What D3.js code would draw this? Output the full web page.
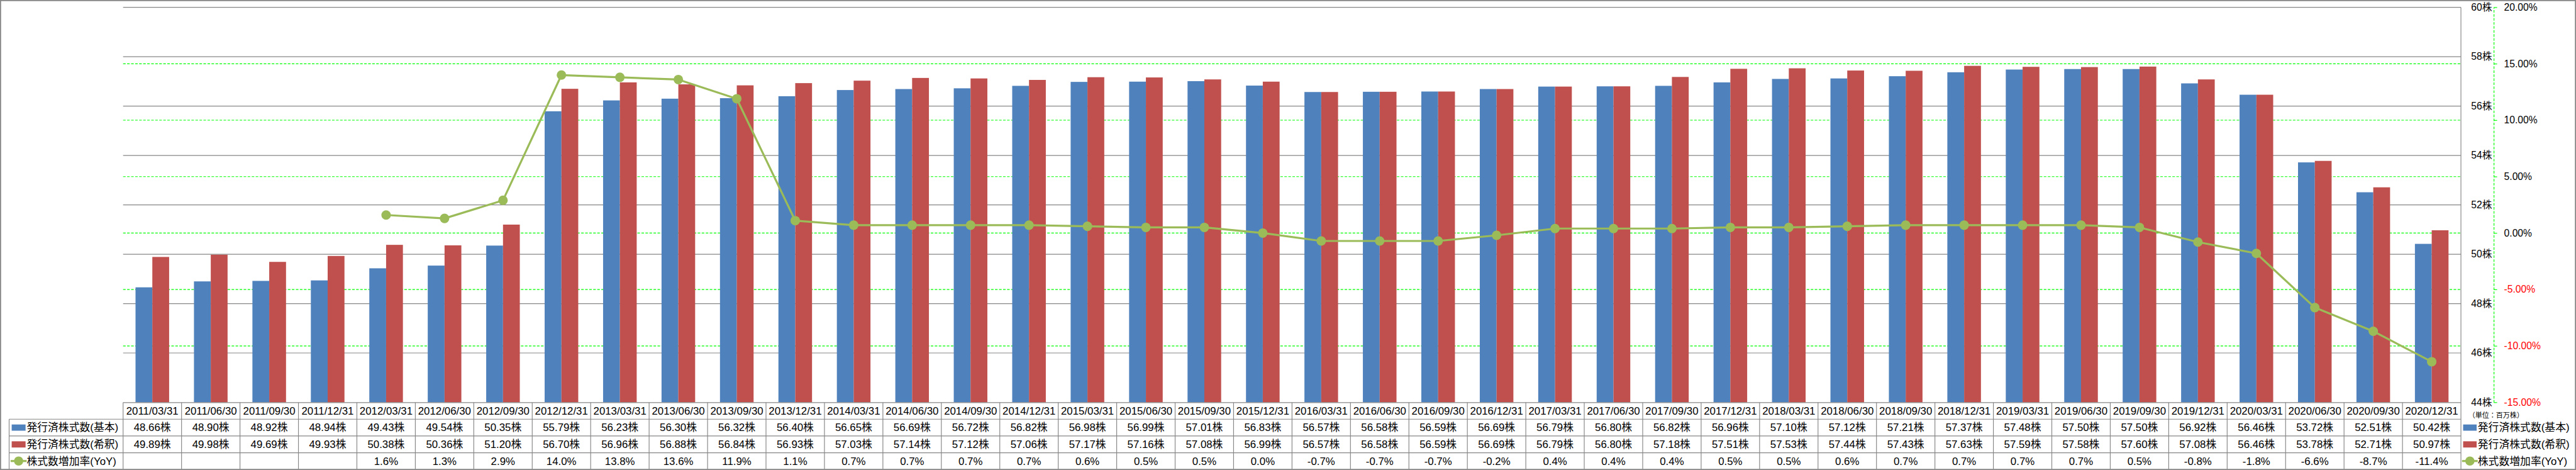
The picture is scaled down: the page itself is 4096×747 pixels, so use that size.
<!DOCTYPE html>
<html><head><meta charset="utf-8">
<script src="https://cdn.jsdelivr.net/npm/d3@7"></script>
<style>
html,body{margin:0;padding:0;background:#fff;overflow:hidden;}
svg{display:block;}
</style></head><body>
<svg id="chart"></svg>
<script>
const categories = ["2011/03/31","2011/06/30","2011/09/30","2011/12/31","2012/03/31","2012/06/30","2012/09/30","2012/12/31","2013/03/31","2013/06/30","2013/09/30","2013/12/31","2014/03/31","2014/06/30","2014/09/30","2014/12/31","2015/03/31","2015/06/30","2015/09/30","2015/12/31","2016/03/31","2016/06/30","2016/09/30","2016/12/31","2017/03/31","2017/06/30","2017/09/30","2017/12/31","2018/03/31","2018/06/30","2018/09/30","2018/12/31","2019/03/31","2019/06/30","2019/09/30","2019/12/31","2020/03/31","2020/06/30","2020/09/30","2020/12/31"];
const basicShares = [48.66,48.90,48.92,48.94,49.43,49.54,50.35,55.79,56.23,56.30,56.32,56.40,56.65,56.69,56.72,56.82,56.98,56.99,57.01,56.83,56.57,56.58,56.59,56.69,56.79,56.80,56.82,56.96,57.10,57.12,57.21,57.37,57.48,57.50,57.50,56.92,56.46,53.72,52.51,50.42];
const dilutedShares = [49.89,49.98,49.69,49.93,50.38,50.36,51.20,56.70,56.96,56.88,56.84,56.93,57.03,57.14,57.12,57.06,57.17,57.16,57.08,56.99,56.57,56.58,56.59,56.69,56.79,56.80,57.18,57.51,57.53,57.44,57.43,57.63,57.59,57.58,57.60,57.08,56.46,53.78,52.71,50.97];
const yoyGrowth = [null,null,null,null,1.6,1.3,2.9,14.0,13.8,13.6,11.9,1.1,0.7,0.7,0.7,0.7,0.6,0.5,0.5,0.0,-0.7,-0.7,-0.7,-0.2,0.4,0.4,0.4,0.5,0.5,0.6,0.7,0.7,0.7,0.7,0.5,-0.8,-1.8,-6.6,-8.7,-11.4];
const shareTicks = [44,46,48,50,52,54,56,58,60];
const pctTicks = [-15,-10,-5,0,5,10,15,20];
const seriesNames = ["発行済株式数(基本)","発行済株式数(希釈)","株式数増加率(YoY)"];
const seriesColors = ["#4F81BD","#C0504D","#9BBB59"];
const unitLabel = "（単位：百万株）";

const W = 7052, H = 1286;
const FONT = "'Liberation Sans','Noto Sans CJK JP',Arial,sans-serif";
const svg = d3.select("#chart").attr("width",4096).attr("height",747).attr("viewBox",`0 0 ${W} ${H}`);

svg.append("rect").attr("x",0).attr("y",0).attr("width",W).attr("height",H).attr("fill","#fff");

const plot = {left:337, right:6737, top:20, bottom:1101};
const x = d3.scaleBand().domain(categories).range([plot.left, plot.right]);
const xi = d3.scaleBand().domain(["b","d"]).range([34,126]);
const yS = d3.scaleLinear().domain([44,60]).range([plot.bottom, plot.top]);
const yP = d3.scaleLinear().domain([-15,20]).range([plot.bottom, plot.top]);
const cx = c => x(c) + x.bandwidth()/2;

// green dashed gridlines (percent axis)
svg.append("g").selectAll("line").data(pctTicks.filter(d => d > -15 && d < 20)).join("line")
  .attr("x1",plot.left).attr("x2",plot.right)
  .attr("y1",d=>yP(d)).attr("y2",d=>yP(d))
  .attr("stroke","#00FF00").attr("stroke-width",2).attr("stroke-dasharray","7,4");
// gray gridlines
svg.append("g").selectAll("line").data(shareTicks.filter(d => d > 44)).join("line")
  .attr("x1",plot.left).attr("x2",plot.right)
  .attr("y1",d=>yS(d)).attr("y2",d=>yS(d))
  .attr("stroke","#868686").attr("stroke-width",2);

// bars
const bars = svg.append("g");
bars.selectAll("rect.b").data(categories).join("rect").attr("class","b")
  .attr("x",c=>x(c)+xi("b")).attr("width",xi.bandwidth())
  .attr("y",(c,i)=>yS(basicShares[i])).attr("height",(c,i)=>plot.bottom-yS(basicShares[i]))
  .attr("fill",seriesColors[0]);
bars.selectAll("rect.d").data(categories).join("rect").attr("class","d")
  .attr("x",c=>x(c)+xi("d")).attr("width",xi.bandwidth())
  .attr("y",(c,i)=>yS(dilutedShares[i])).attr("height",(c,i)=>plot.bottom-yS(dilutedShares[i]))
  .attr("fill",seriesColors[1]);

// line
const pts = categories.map((c,i)=>({c, v:yoyGrowth[i]})).filter(d=>d.v!=null);
svg.append("path").datum(pts)
  .attr("d", d3.line().x(d=>cx(d.c)).y(d=>yP(d.v)))
  .attr("fill","none").attr("stroke",seriesColors[2]).attr("stroke-width",5.5).attr("stroke-linejoin","round");
svg.append("g").selectAll("circle").data(pts).join("circle")
  .attr("cx",d=>cx(d.c)).attr("cy",d=>yP(d.v)).attr("r",13).attr("fill",seriesColors[2]);

// right plot border
svg.append("line").attr("x1",plot.right).attr("x2",plot.right).attr("y1",plot.top).attr("y2",1284)
  .attr("stroke","#868686").attr("stroke-width",2);

// axes
const axisX = 6827;
const axS = svg.append("g").attr("transform",`translate(${axisX},0)`)
  .call(d3.axisLeft(yS).tickValues(shareTicks).tickFormat(d=>d+"株").tickSize(0).tickPadding(5));
axS.select(".domain").remove();
axS.attr("font-size",27).attr("font-family",FONT);
axS.selectAll("text").attr("fill","#000");

const axP = svg.append("g").attr("transform",`translate(${axisX},0)`)
  .call(d3.axisRight(yP).tickValues(pctTicks).tickFormat(d=>d.toFixed(2)+"%").tickSizeInner(9).tickSizeOuter(0).tickPadding(19));
axP.attr("font-size",27).attr("font-family",FONT);
axP.select(".domain").attr("stroke","#00FF00").attr("stroke-width",2).attr("stroke-dasharray","7,4");
axP.selectAll(".tick line").attr("stroke","#00FF00").attr("stroke-width",2);
axP.selectAll("text").attr("fill",d=> d<0 ? "#FF0000" : "#000");

// unit label
svg.append("text").attr("x",6757).attr("y",1136).attr("dy","0.35em")
  .attr("font-size",19).attr("font-family",FONT).attr("fill","#000").text(unitLabel);

// table
const rowEdges = [1101.5,1147,1193,1239,1284];
const rowMid = i => (rowEdges[i]+rowEdges[i+1])/2;
const grid = svg.append("g").attr("stroke","#868686").attr("stroke-width",2);
grid.append("line").attr("x1",plot.left).attr("x2",plot.right).attr("y1",rowEdges[0]).attr("y2",rowEdges[0]);
[1,2,3].forEach(r=>grid.append("line").attr("x1",25).attr("x2",plot.right).attr("y1",rowEdges[r]).attr("y2",rowEdges[r]));
grid.append("line").attr("x1",25).attr("x2",25).attr("y1",rowEdges[1]).attr("y2",1284);
grid.selectAll("line.v").data(categories).join("line").attr("class","v")
  .attr("x1",c=>x(c)).attr("x2",c=>x(c)).attr("y1",rowEdges[0]).attr("y2",1284);

const tbl = svg.append("g").attr("font-family",FONT).attr("font-size",29).attr("fill","#000").attr("text-anchor","middle");
tbl.selectAll("text.h").data(categories).join("text").attr("class","h")
  .attr("x",cx).attr("y",rowMid(0)).attr("dy","0.35em").text(c=>c);
tbl.selectAll("text.r1").data(categories).join("text").attr("class","r1")
  .attr("x",cx).attr("y",rowMid(1)).attr("dy","0.35em").text((c,i)=>basicShares[i].toFixed(2)+"株");
tbl.selectAll("text.r2").data(categories).join("text").attr("class","r2")
  .attr("x",cx).attr("y",rowMid(2)).attr("dy","0.35em").text((c,i)=>dilutedShares[i].toFixed(2)+"株");
tbl.selectAll("text.r3").data(categories).join("text").attr("class","r3")
  .attr("x",cx).attr("y",rowMid(3)).attr("dy","0.35em").text((c,i)=>yoyGrowth[i]==null?"":yoyGrowth[i].toFixed(1)+"%");

// legend keys (table row headers and right legend)
function legendKey(g, x0, w, row){
  const yc = rowMid(row+1);
  if(row<2){
    g.append("rect").attr("x",x0).attr("y",yc-8.5).attr("width",w).attr("height",17).attr("fill",seriesColors[row]);
  } else {
    g.append("line").attr("x1",x0-3).attr("x2",x0+w+3).attr("y1",yc).attr("y2",yc)
      .attr("stroke",seriesColors[2]).attr("stroke-width",5.5);
    g.append("circle").attr("cx",x0+w/2).attr("cy",yc).attr("r",12.5).attr("fill",seriesColors[2]);
  }
  g.append("text").attr("x",x0+w+3).attr("y",yc).attr("dy","0.35em")
    .attr("font-family",FONT).attr("font-size",29).attr("fill","#000").text(seriesNames[row]);
}
const lg1 = svg.append("g"), lg2 = svg.append("g");
seriesNames.forEach((n,r)=>{ legendKey(lg1, 32, 38, r); legendKey(lg2, 6743, 37, r); });

// outer border
svg.append("rect").attr("x",1.5).attr("y",1.5).attr("width",W-3).attr("height",H-3)
  .attr("fill","none").attr("stroke","#868686").attr("stroke-width",3);
</script>
</body></html>
